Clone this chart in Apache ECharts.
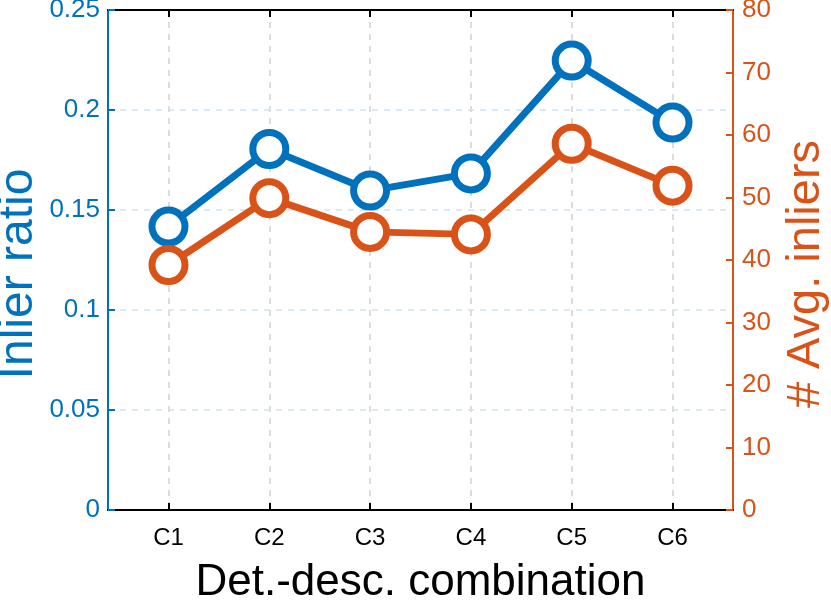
<!DOCTYPE html>
<html>
<head>
<meta charset="utf-8">
<script src="https://cdn.jsdelivr.net/npm/echarts@6/dist/echarts.min.js"></script>
<style>
  html, body { margin: 0; padding: 0; background: #fff; }
  #chart { width: 831px; height: 601px; }
</style>
</head>
<body>
<div id="chart"></div>
<script>
var categories = ['C1', 'C2', 'C3', 'C4', 'C5', 'C6'];
var inlierRatio = [0.1417, 0.1805, 0.1597, 0.1683, 0.2247, 0.1937];
var avgInliers = [39.2, 49.9, 44.5, 44.1, 58.6, 51.9];
var positions = [1, 2, 3, 4, 5, 6];

var BLUE = '#0072BD';
var ORANGE = '#D95319';
var FONT = "'Liberation Sans', Arial, Helvetica, sans-serif";

var chart = echarts.init(document.getElementById('chart'));

function pairs(vals) {
	return positions.map(function (p, i) { return [p, vals[i]]; });
}

var option = {
	animation: false,
	backgroundColor: '#fff',
	textStyle: { fontFamily: FONT },
	grid: { left: 108, right: 98, top: 10, bottom: 91, containLabel: false, outerBoundsMode: 'none' },
	xAxis: [
		{
			type: 'value',
			min: 0.4,
			max: 6.6,
			position: 'bottom',
			name: 'Det.-desc. combination',
			nameLocation: 'middle',
			nameGap: 51,
			nameTextStyle: { color: '#000', fontSize: 44, fontFamily: FONT },
			axisLine: { show: true, onZero: false, lineStyle: { color: '#000', width: 2 } },
			axisTick: { show: true, inside: true, length: 7, customValues: positions, lineStyle: { color: '#000', width: 2 } },
			axisLabel: {
				customValues: positions,
				color: '#000', fontSize: 24, fontFamily: FONT, margin: 16,
				formatter: function (v) { return categories[Math.round(v) - 1]; }
			},
			splitLine: { show: true, lineStyle: { color: '#dcdcdc', width: 2, type: [6, 6] } }
		},
		{
			type: 'value',
			min: 0.4,
			max: 6.6,
			position: 'top',
			axisLine: { show: true, onZero: false, lineStyle: { color: '#000', width: 2 } },
			axisTick: { show: true, inside: true, length: 7, customValues: positions, lineStyle: { color: '#000', width: 2 } },
			axisLabel: { show: false },
			splitLine: { show: false }
		}
	],
	yAxis: [
		{
			type: 'value',
			min: 0,
			max: 0.25,
			interval: 0.05,
			position: 'left',
			name: 'Inlier ratio',
			nameLocation: 'middle',
			nameRotate: 90,
			nameGap: 65,
			nameMoveOverlap: false,
			nameTextStyle: { color: BLUE, fontSize: 48, fontFamily: FONT, padding: [0, 28, 0, 0] },
			axisLine: { show: true, onZero: false, lineStyle: { color: BLUE, width: 2 } },
			axisTick: { show: true, inside: true, length: 7, lineStyle: { color: BLUE, width: 2 } },
			axisLabel: { color: BLUE, fontSize: 26, fontFamily: FONT, margin: 8 },
			splitLine: { show: true, lineStyle: { color: '#d9e9f5', width: 2, type: [6, 6] } }
		},
		{
			type: 'value',
			min: 0,
			max: 80,
			interval: 10,
			position: 'right',
			name: '# Avg. inliers',
			nameLocation: 'middle',
			nameRotate: 90,
			nameGap: 50,
			nameMoveOverlap: false,
			nameTextStyle: { color: ORANGE, fontSize: 47, fontFamily: FONT, padding: [0, 28, 0, 0] },
			axisLine: { show: true, onZero: false, lineStyle: { color: ORANGE, width: 2 } },
			axisTick: { show: true, inside: true, length: 7, lineStyle: { color: ORANGE, width: 2 } },
			axisLabel: { color: ORANGE, fontSize: 26, fontFamily: FONT, margin: 9 },
			splitLine: { show: false }
		}
	],
	series: [
		{
			name: 'Inlier ratio',
			type: 'line',
			xAxisIndex: 0,
			yAxisIndex: 0,
			data: pairs(inlierRatio),
			symbol: 'circle',
			symbolSize: 33,
			lineStyle: { color: BLUE, width: 7 },
			itemStyle: { color: '#fff', borderColor: BLUE, borderWidth: 7 },
			z: 3
		},
		{
			name: '# Avg. inliers',
			type: 'line',
			xAxisIndex: 0,
			yAxisIndex: 1,
			data: pairs(avgInliers),
			symbol: 'circle',
			symbolSize: 33,
			lineStyle: { color: ORANGE, width: 7 },
			itemStyle: { color: '#fff', borderColor: ORANGE, borderWidth: 7 },
			z: 4
		}
	]
};

chart.setOption(option);

window.onresize = function () {
	chart.resize();
};
</script>
</body>
</html>
